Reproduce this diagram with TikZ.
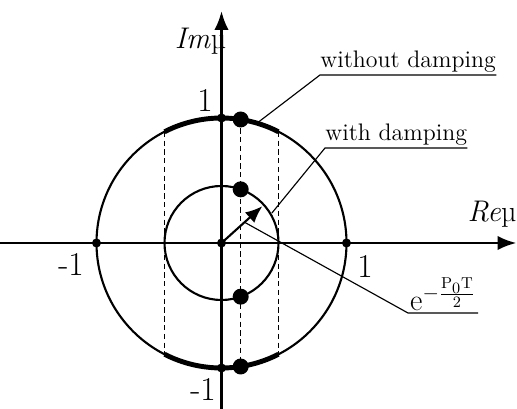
\documentclass[tikz,border=0pt]{standalone}
\usepackage{tikz}
\usetikzlibrary{arrows.meta, calc}
\usepackage{amsmath}

\begin{document}
\begin{tikzpicture}[
        axis/.style={line width=1.6pt, -{Latex[length=3.8mm, width=2.9mm]}},
        circ/.style={line width=1.2pt},
        band/.style={line width=2.8pt},
        guide/.style={dashed, line width=0.5pt, dash pattern=on 3pt off 2pt},
        leader/.style={line width=0.65pt},
        vec/.style={line width=1.2pt, -{Latex[length=3.4mm, width=2.8mm]}},
        bigdot/.style={circle, fill, inner sep=0pt, minimum size=3.2mm},
        smalldot/.style={circle, fill, inner sep=0pt, minimum size=1.8mm},
        lbl/.style={font=\fontsize{13.6}{16}\selectfont, inner sep=0pt, inner ysep=1pt},
        axlbl/.style={font=\fontsize{17}{19}\selectfont},
        num/.style={font=\fontsize{19}{21}\selectfont}
    ]
        \useasboundingbox (-4.43,-3.32) rectangle (5.91,4.86);

        % axes
        \coordinate (O) at (0,0);
        \coordinate (xa) at (-4.43,0);
        \coordinate (xb) at (5.9,0);
        \coordinate (ya) at (0,-3.32);
        \coordinate (yb) at (0,4.64);
        \draw[axis] (xa) -- (xb);
        \draw[axis] (ya) -- (yb);
        \node[axlbl] (re) at (5.41,0.58) {\textit{Re}\textmu};
        \node[axlbl] (im) at (-0.42,4.04) {\textit{Im}\textmu};

        % unit circle and damped circle
        \draw[circ] (O) circle (2.5);
        \draw[circ] (O) circle (1.14);
        \foreach \x in {-1.14, 1.14} {
            \draw[guide] (\x, 2.225) -- (\x, -2.225);
        }
        \draw[band] (62.87:2.5) arc (62.87:117.13:2.5);
        \draw[band] (-62.87:2.5) arc (-62.87:-117.13:2.5);
        \draw[guide] (0.384, 2.47) -- (0.384, -2.47);

        % roots
        \node[bigdot] (wt) at (0.384, 2.47) {};
        \node[bigdot] (wb) at (0.384, -2.47) {};
        \node[bigdot] (dt) at (0.384, 1.073) {};
        \node[bigdot] (db) at (0.384, -1.073) {};
        \foreach \p/\n in {(0,0)/o, (2.5,0)/e, (-2.5,0)/w, (0,2.5)/n, (0,-2.5)/s} {
            \node[smalldot] (pt-\n) at \p {};
        }
        \node[num] (one-n) at (-0.33,2.86) {1};
        \node[num] (one-w) at (-3.01,-0.43) {-1};
        \node[num] (one-e) at (2.87,-0.46) {1};
        \node[num] (one-s) at (-0.37,-2.92) {-1};

        % radius of the damped circle
        \coordinate (tip) at (42:1.1);
        \draw[vec] (O) -- (tip);

        % callouts
        \coordinate (wo-foot) at (73:2.53);
        \node[lbl, anchor=south west] (wo) at (1.97,3.36) {without damping};
        \draw[leader] (wo-foot) -- (wo.south west) -- (wo.south east);

        \coordinate (wd-foot) at (30.7:1.17);
        \node[lbl, anchor=south west] (wd) at (2.07,1.9) {with damping};
        \draw[leader] (wd-foot) -- (wd.south west) -- (wd.south east);

        \coordinate (ex-foot) at (42:0.62);
        \coordinate (ex-knee) at (3.73,-1.4);
        \coordinate (ex-end) at (5.13,-1.4);
        \draw[leader] (ex-foot) -- (ex-knee) -- (ex-end);
        \node[font=\fontsize{18}{20}\selectfont, anchor=south, inner sep=1pt] (ex) at ($(ex-knee)!0.5!(ex-end)$)
            {$\mathrm{e}^{-\genfrac{}{}{}{2}{\mathrm{P_0T}}{2}}$};
    \end{tikzpicture}
\end{document}
